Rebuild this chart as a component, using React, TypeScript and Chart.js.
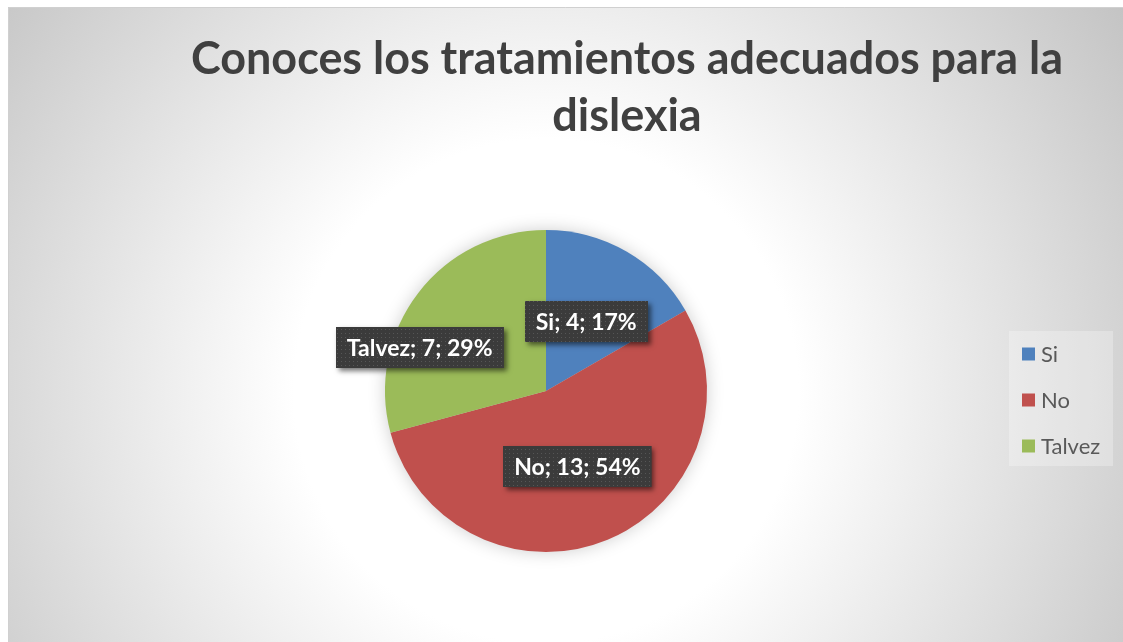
import React, { useEffect, useRef } from "react";
import { Chart, registerables } from "chart.js";

Chart.register(...registerables);

const TITLE_LINES = ["Conoces los tratamientos adecuados para la", "dislexia"];
const CATEGORIES = ["Si", "No", "Talvez"];
const VALUES = [4, 13, 7];
const COLORS = ["#4F81BD", "#C0504D", "#9BBB59"];
const LABEL_RADIUS = [0.5, 0.51, 0.83];
const LABEL_ANGLE_SHIFT = [0, 0, -18.5];

const FONT = "Lato, 'Open Sans', 'DejaVu Sans', sans-serif";
const W = 1123;
const H = 642;

function makePattern(ctx: CanvasRenderingContext2D) {
  const c = document.createElement("canvas");
  c.width = 4;
  c.height = 4;
  const p = c.getContext("2d")!;
  p.fillStyle = "#3b3b3b";
  p.fillRect(0, 0, 4, 4);
  p.fillStyle = "#565656";
  p.fillRect(1, 1, 1, 1);
  return ctx.createPattern(c, "repeat");
}

const decorPlugin = {
  id: "decor",
  beforeDraw(chart: any) {
    const ctx: CanvasRenderingContext2D = chart.ctx;
    ctx.save();
    ctx.fillStyle = "#ffffff";
    ctx.fillRect(0, 0, W, H);
    const cx = 546, cy = 391;
    const g = ctx.createRadialGradient(cx, cy, 0, cx, cy, 700);
    g.addColorStop(0, "#ffffff");
    g.addColorStop(0.36, "#ffffff");
    g.addColorStop(1, "#c3c3c3");
    ctx.fillStyle = g;
    ctx.fillRect(8, 7, W - 8, H - 7);
    ctx.strokeStyle = "#d0d0d0";
    ctx.lineWidth = 1;
    ctx.beginPath();
    ctx.moveTo(8.5, H);
    ctx.lineTo(8.5, 7.5);
    ctx.lineTo(W, 7.5);
    ctx.stroke();

    // title
    ctx.fillStyle = "#404040";
    ctx.textAlign = "center";
    ctx.textBaseline = "alphabetic";
    ctx.font = `bold 45px ${FONT}`;
    ctx.fillText(TITLE_LINES[0], 627, 74, 872);
    ctx.fillText(TITLE_LINES[1], 627, 131, 872);

    // legend
    const lx = 1009, ly = 331, lw = 104, lh = 135;
    ctx.fillStyle = "rgba(255,255,255,0.28)";
    ctx.fillRect(lx, ly, lw, lh);
    ctx.font = `22px ${FONT}`;
    ctx.textAlign = "left";
    ctx.textBaseline = "middle";
    CATEGORIES.forEach((c, i) => {
      const yc = 354 + i * 46;
      ctx.fillStyle = COLORS[i];
      ctx.fillRect(1022, yc - 6.5, 13, 13);
      ctx.fillStyle = "#595959";
      ctx.fillText(c, 1041, yc + 1);
    });
    ctx.restore();
  },
  beforeDatasetsDraw(chart: any) {
    const meta = chart.getDatasetMeta(0);
    const a = meta.data[0];
    if (!a) return;
    const ctx: CanvasRenderingContext2D = chart.ctx;
    ctx.save();
    ctx.shadowColor = "rgba(0,0,0,0.22)";
    ctx.shadowBlur = 18;
    ctx.fillStyle = "#cccccc";
    ctx.beginPath();
    ctx.arc(a.x, a.y, a.outerRadius - 1, 0, Math.PI * 2);
    ctx.fill();
    ctx.restore();
  },
  afterDatasetsDraw(chart: any) {
    const meta = chart.getDatasetMeta(0);
    const ctx: CanvasRenderingContext2D = chart.ctx;
    const total = VALUES.reduce((s, v) => s + v, 0);
    const pat = makePattern(ctx);
    ctx.save();
    ctx.font = `bold 23px ${FONT}`;
    meta.data.forEach((arc: any, i: number) => {
      const mid = (arc.startAngle + arc.endAngle) / 2 + (LABEL_ANGLE_SHIFT[i] * Math.PI) / 180;
      const r = arc.outerRadius * LABEL_RADIUS[i];
      const x = arc.x + Math.cos(mid) * r;
      const y = arc.y + Math.sin(mid) * r;
      const text = `${CATEGORIES[i]}; ${VALUES[i]}; ${Math.round((VALUES[i] / total) * 100)}%`;
      const tw = ctx.measureText(text).width;
      const bw = tw + 22;
      const bh = 41;
      const bx = Math.round(x - bw / 2);
      const by = Math.round(y - bh / 2);
      ctx.save();
      ctx.shadowColor = "rgba(0,0,0,0.55)";
      ctx.shadowBlur = 5;
      ctx.shadowOffsetX = 3;
      ctx.shadowOffsetY = 3;
      ctx.fillStyle = "#3b3b3b";
      ctx.fillRect(bx, by, bw, bh);
      ctx.restore();
      if (pat) {
        ctx.fillStyle = pat;
        ctx.fillRect(bx, by, bw, bh);
      }
      ctx.fillStyle = "#ffffff";
      ctx.textAlign = "center";
      ctx.textBaseline = "middle";
      ctx.fillText(text, x, by + bh / 2 + 1);
    });
    ctx.restore();
  },
};

export default function App() {
  const ref = useRef<HTMLCanvasElement | null>(null);
  useEffect(() => {
    if (!ref.current) return;
    const chart = new Chart(ref.current, {
      type: "pie",
      data: {
        labels: CATEGORIES,
        datasets: [
          {
            data: VALUES,
            backgroundColor: COLORS,
            borderWidth: 0,
            hoverOffset: 0,
            offset: 0,
          },
        ],
      },
      options: {
        responsive: false,
        animation: false,
        layout: { padding: { left: 385, right: 416, top: 230, bottom: 90 } },
        plugins: {
          legend: { display: false },
          title: { display: false },
          tooltip: { enabled: false },
        },
        events: [],
      },
      plugins: [decorPlugin],
    });
    return () => chart.destroy();
  }, []);
  return (
    <div style={{ position: "fixed", left: 0, top: 0, width: W, height: H, background: "#fff" }}>
      <canvas ref={ref} width={W} height={H} style={{ display: "block", width: W, height: H }} />
    </div>
  );
}
